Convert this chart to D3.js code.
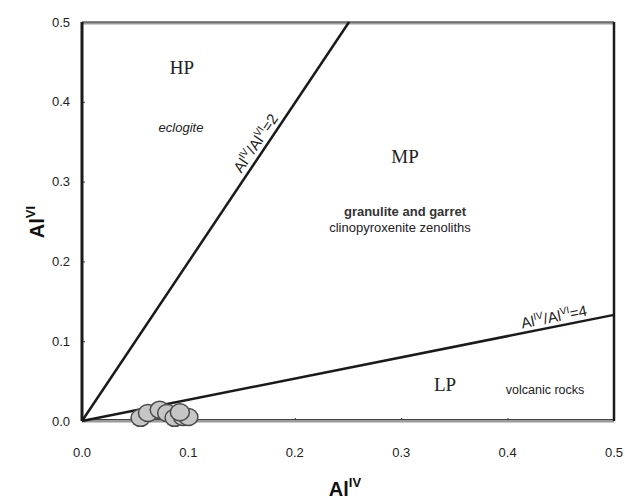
<!DOCTYPE html>
<html>
<head>
<meta charset="utf-8">
<script src="https://cdn.jsdelivr.net/npm/d3@7"></script>
<style>
  body { margin: 0; background: #fff; }
  svg { display: block; }
</style>
</head>
<body>
<div id="chart"></div>
<script>
// Al(IV) vs Al(VI) pressure fields
const xTicks = [0, 0.1, 0.2, 0.3, 0.4, 0.5];
const yTicks = [0, 0.1, 0.2, 0.3, 0.4, 0.5];
const xLabels = ["0.0", "0.1", "0.2", "0.3", "0.4", "0.5"];
const yLabels = ["0.0", "0.1", "0.2", "0.3", "0.4", "0.5"];

// sample points (AlIV, AlVI)
const samplesAlIV = [0.055, 0.062, 0.073, 0.080, 0.087, 0.095, 0.100, 0.092];
const samplesAlVI = [0.004, 0.010, 0.014, 0.010, 0.004, 0.005, 0.005, 0.011];

// boundary lines
const line2 = [[0, 0], [0.251, 0.5]];
const line4 = [[0, 0], [0.5, 0.133]];

const width = 625, height = 499;
const margin = { top: 22, right: 11, bottom: 78, left: 82 };

const svg = d3.select("#chart").append("svg")
    .attr("width", width)
    .attr("height", height);

const x = d3.scaleLinear().domain([0, 0.5]).range([margin.left, width - margin.right]);
const y = d3.scaleLinear().domain([0, 0.5]).range([height - margin.bottom, margin.top]);

// inward ticks
svg.append("g")
    .attr("transform", `translate(0,${y(0)})`)
    .call(d3.axisTop(x).tickValues(xTicks).tickSize(3).tickFormat(""))
    .call(g => g.select(".domain").remove())
    .selectAll("line").attr("stroke", "#333");

svg.append("g")
    .attr("transform", `translate(${x(0)},0)`)
    .call(d3.axisRight(y).tickValues(yTicks).tickSize(3).tickFormat(""))
    .call(g => g.select(".domain").remove())
    .selectAll("line").attr("stroke", "#333");

// tick labels
svg.append("g").selectAll("text")
    .data(xTicks)
    .join("text")
    .attr("x", d => x(d))
    .attr("y", 457)
    .attr("text-anchor", "middle")
    .attr("font-family", "Liberation Sans, Arial, sans-serif")
    .attr("font-size", 13)
    .attr("fill", "#222")
    .text((d, i) => xLabels[i]);

svg.append("g").selectAll("text")
    .data(yTicks)
    .join("text")
    .attr("x", 70)
    .attr("y", d => y(d) + 4.5)
    .attr("text-anchor", "end")
    .attr("font-family", "Liberation Sans, Arial, sans-serif")
    .attr("font-size", 13)
    .attr("fill", "#222")
    .text((d, i) => yLabels[i]);

// frame: gray top and bottom, dark sides
const x0 = x(0), x1 = x(0.5), y0 = y(0), y1 = y(0.5);
svg.append("line").attr("x1", x0).attr("x2", x1).attr("y1", y1 + 1).attr("y2", y1 + 1)
    .attr("stroke", "#9a9a9a").attr("stroke-width", 3);
svg.append("line").attr("x1", x0).attr("x2", x1).attr("y1", y1).attr("y2", y1)
    .attr("stroke", "#444").attr("stroke-width", 1);
svg.append("line").attr("x1", x0).attr("x2", x1).attr("y1", y0).attr("y2", y0)
    .attr("stroke", "#9a9a9a").attr("stroke-width", 3);
svg.append("line").attr("x1", x0).attr("x2", x1).attr("y1", y0 - 1.5).attr("y2", y0 - 1.5)
    .attr("stroke", "#444").attr("stroke-width", 1);
svg.append("line").attr("x1", x0).attr("x2", x0).attr("y1", y1).attr("y2", y0)
    .attr("stroke", "#1a1a1a").attr("stroke-width", 3);
svg.append("line").attr("x1", x1).attr("x2", x1).attr("y1", y1).attr("y2", y0)
    .attr("stroke", "#1a1a1a").attr("stroke-width", 2.5);

// boundary lines
const lineGen = d3.line().x(d => x(d[0])).y(d => y(d[1]));
[line2, line4].forEach(l => {
    svg.append("path")
        .attr("d", lineGen(l))
        .attr("fill", "none")
        .attr("stroke", "#1a1a1a")
        .attr("stroke-width", 2.5);
});

// sample markers
svg.append("g").selectAll("ellipse")
    .data(samplesAlIV.map((v, i) => [v, samplesAlVI[i]]))
    .join("ellipse")
    .attr("cx", d => x(d[0]))
    .attr("cy", d => y(d[1]))
    .attr("rx", 9.5)
    .attr("ry", 8.5)
    .attr("fill", "#c6c6c6")
    .attr("stroke", "#4a4a4a")
    .attr("stroke-width", 1.5);

// field labels
const serif = "Liberation Serif, Times New Roman, serif";
const sans = "Liberation Sans, Arial, sans-serif";
function label(tx, ty, txt, opts) {
    const t = svg.append("text")
        .attr("x", tx).attr("y", ty)
        .attr("text-anchor", "middle")
        .attr("font-family", opts.family || sans)
        .attr("font-size", opts.size || 12)
        .attr("fill", opts.fill || "#222")
        .text(txt);
    if (opts.italic) t.attr("font-style", "italic");
    if (opts.weight) t.attr("font-weight", opts.weight);
    return t;
}
label(182, 74, "HP", { family: serif, size: 19 });
label(181, 132, "eclogite", { italic: true, size: 13 });
label(405, 163, "MP", { family: serif, size: 19 });
label(405, 216, "granulite and garret", { size: 13, weight: "bold", fill: "#333" });
label(400, 232, "clinopyroxenite zenoliths", { size: 13 });
label(445, 391, "LP", { family: serif, size: 19 });
label(545, 394, "volcanic rocks", { size: 12.5 });

// rotated ratio labels
function ratioLabel(cx, cy, angle, ratio) {
    const t = svg.append("text")
        .attr("transform", `translate(${cx},${cy}) rotate(${angle})`)
        .attr("text-anchor", "middle")
        .attr("font-family", sans)
        .attr("font-size", 15)
        .attr("fill", "#222");
    t.append("tspan").text("Al");
    t.append("tspan").attr("dy", -6).attr("font-size", 10).text("IV");
    t.append("tspan").attr("dy", 6).text("/Al");
    t.append("tspan").attr("dy", -6).attr("font-size", 10).text("VI");
    t.append("tspan").attr("dy", 6).text("=" + ratio);
}
ratioLabel(260, 146, -56, 2);
ratioLabel(555, 322, -11.3, 4);

// axis titles
const xt = svg.append("text")
    .attr("x", 345).attr("y", 496)
    .attr("text-anchor", "middle")
    .attr("font-family", sans)
    .attr("font-weight", "bold")
    .attr("font-size", 20)
    .attr("fill", "#111");
xt.append("tspan").text("Al");
xt.append("tspan").attr("dy", -9).attr("font-size", 13).text("IV");

const yt = svg.append("text")
    .attr("transform", `translate(44,222) rotate(-90)`)
    .attr("text-anchor", "middle")
    .attr("font-family", sans)
    .attr("font-weight", "bold")
    .attr("font-size", 20)
    .attr("fill", "#111");
yt.append("tspan").text("Al");
yt.append("tspan").attr("dy", -9).attr("font-size", 13).text("VI");
</script>
</body>
</html>
